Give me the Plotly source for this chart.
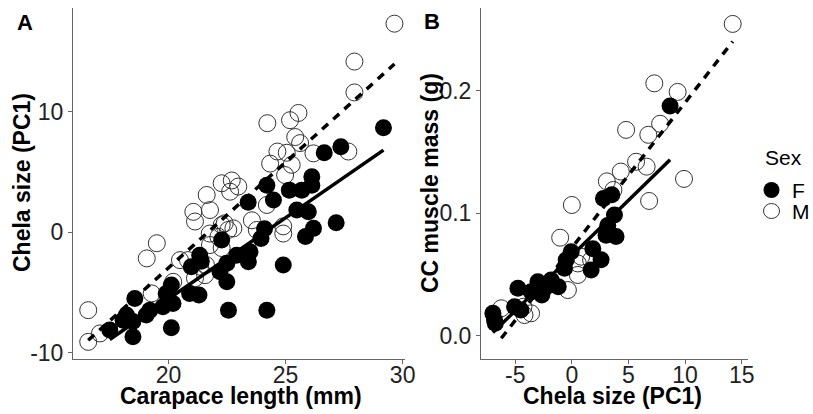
import numpy as np
import plotly.graph_objects as go

# Panel A: carapace length (mm) vs chela size (PC1)
a_male_x = [29.65, 27.94, 27.94, 24.22, 25.19, 25.55, 25.41, 25.62, 24.65, 25.05,
            26.19, 27.68, 24.34, 25.26, 24.98, 24.2, 24.9, 24.9, 22.27, 22.7,
            22.98, 22.63, 21.63, 21.06, 21.77, 21.13, 22.4, 23.56, 22.27, 22.77,
            22.13, 19.5, 19.07, 23.77, 20.49, 21.35, 21.56, 21.13, 20.2, 19.28,
            16.57, 16.57, 17.07, 20.83, 21.6, 21.76, 22.55, 22.27, 21.77]
a_male_y = [17.3, 14.16, 11.6, 9.05, 9.3, 9.9, 7.9, 7.4, 6.7, 6.6,
            6.55, 6.7, 5.7, 5.6, 4.75, 2.27, 0.5, -0.1, 4.07, 4.3,
            3.8, 3.37, 3.1, 1.7, 1.85, 0.9, 0.75, 1.0, 0.6, 0.33,
            -0.37, -0.9, -2.16, 0.2, -2.3, -2.85, -3.55, -3.8, -4.1, -5.06,
            -6.45, -9.08, -8.38, -2.3, -2.7, -0.1, 0.2, -1.3, -1.05]
a_female_x = [29.18, 27.36, 26.65, 26.12, 26.12, 25.69, 25.16, 24.2, 24.48, 23.4,
              25.48, 25.97, 27.16, 26.19, 25.85, 24.1, 23.95, 22.27, 22.91, 23.48,
              23.41, 22.49, 22.2, 22.49, 21.3, 24.9, 22.56, 24.2, 21.4, 20.97,
              21.33, 20.12, 19.9, 18.56, 20.19, 19.76, 19.2, 19.05, 18.2, 18.48,
              18.06, 17.49, 18.48, 20.12, 20.9]
a_female_y = [8.68, 7.1, 6.6, 4.6, 3.9, 3.5, 3.5, 3.9, 2.68, 2.5,
              1.85, 1.7, 0.8, 0.33, -0.35, 0.3, -0.5, -0.64, -1.9, -1.6,
              -2.44, -2.57, -3.27, -4.1, -5.2, -2.7, -6.45, -6.45, -2.4, -2.85,
              -1.9, -4.37, -5.07, -5.48, -5.9, -6.17, -6.45, -6.86, -6.86, -7.4,
              -7.28, -8.1, -8.66, -7.9, -5.06]

# Panel B: chela size (PC1) vs CC muscle mass (g)
b_male_x = [14.2, 7.28, 9.34, 4.79, 6.75, 7.79, 5.67, 6.6, 4.32, 9.9,
            6.82, 3.09, 3.67, 0.0, -1.03, 0.53, 0.82, 0.53, -0.35, -6.23,
            -4.18, -4.27, 1.7, -3.6]
b_male_y = [0.2545, 0.206, 0.199, 0.168, 0.164, 0.173, 0.142, 0.138, 0.134, 0.128,
            0.110, 0.126, 0.119, 0.1067, 0.080, 0.059, 0.0645, 0.0496, 0.0373, 0.0224,
            0.0169, 0.0237, 0.0618, 0.0183]
b_female_x = [8.67, 2.79, 3.53, 3.76, 3.17, 3.9, 3.02, 1.85, 2.58, 1.7,
              -0.06, -0.5, -0.65, -1.83, -3.0, -2.42, -3.59, -4.76, -5.06, -6.97,
              -6.83, -1.9, -2.65, -6.76, -4.5, -1.2]
b_female_y = [0.1875, 0.112, 0.115, 0.0985, 0.090, 0.081, 0.082, 0.071, 0.062, 0.0536,
              0.0686, 0.0618, 0.055, 0.0455, 0.044, 0.0387, 0.0359, 0.0387, 0.0237, 0.0183,
              0.0128, 0.0414, 0.0332, 0.0101, 0.021, 0.040]

# tick labels
a_xticks = [20, 25, 30]
a_yticks = [-10, 0, 10]
b_xticks = [-5, 0, 5, 10, 15]
b_yticks = [0.0, 0.1, 0.2]

sexes = ["F", "M"]

FONT = "Liberation Sans, Arial, sans-serif"
W, H = 813, 414


def fit_line(xs, ys):
    # lm fit over the group's x range, like geom_smooth(method="lm", se=FALSE)
    k, b = np.polyfit(xs, ys, 1)
    xr = np.array([min(xs), max(xs)])
    return xr, k * xr + b


def pxx(v):
    return v / W


def pxy(v):
    return 1 - v / H


MALE_MARKER = dict(symbol="circle-open", size=17, color="#333333", line=dict(width=1, color="#333333"))
FEMALE_MARKER = dict(symbol="circle", size=17, color="black", line=dict(width=0))

fig = go.Figure()

for xs, ys, sex, ax in [
    (a_male_x, a_male_y, "M", ""),
    (a_female_x, a_female_y, "F", ""),
    (b_male_x, b_male_y, "M", "2"),
    (b_female_x, b_female_y, "F", "2"),
]:
    fig.add_trace(go.Scatter(
        x=xs, y=ys, mode="markers", name=sex,
        marker=MALE_MARKER if sex == "M" else FEMALE_MARKER,
        xaxis="x" + ax, yaxis="y" + ax, showlegend=False,
    ))

for xs, ys, dash, ax in [
    (a_male_x, a_male_y, "8px,7px", ""),
    (a_female_x, a_female_y, "solid", ""),
    (b_male_x, b_male_y, "8px,7px", "2"),
    (b_female_x, b_female_y, "solid", "2"),
]:
    lx, ly = fit_line(xs, ys)
    fig.add_trace(go.Scatter(
        x=lx, y=ly, mode="lines", line=dict(color="black", width=3.5, dash=dash),
        xaxis="x" + ax, yaxis="y" + ax, showlegend=False, hoverinfo="skip",
    ))

axis_common = dict(
    showline=True, linecolor="#666666", linewidth=1,
    ticks="outside", ticklen=4, tickcolor="#666666",
    showgrid=False, zeroline=False, automargin=False,
    tickfont=dict(family=FONT, size=23, color="#222222"),
)

top = pxy(8)
bottom = pxy(359)

fig.update_layout(
    template="none",
    width=W, height=H,
    margin=dict(l=0, r=0, t=0, b=0, autoexpand=False),
    paper_bgcolor="white", plot_bgcolor="white",
    showlegend=False,
    xaxis=dict(domain=[pxx(73), pxx(405)], range=[15.92, 30.1],
               tickvals=a_xticks, ticktext=[str(v) for v in a_xticks],
               ticklabelstandoff=-9, anchor="y", **axis_common),
    yaxis=dict(domain=[bottom, top], range=[-10.5, 18.6],
               tickvals=a_yticks, ticktext=[str(v) for v in a_yticks],
               anchor="x", **axis_common),
    xaxis2=dict(domain=[pxx(481), pxx(748)], range=[-8.02, 15.55],
                tickvals=b_xticks, ticktext=[str(v) for v in b_xticks],
                ticklabelstandoff=-9, anchor="y2", **axis_common),
    yaxis2=dict(domain=[bottom, top], range=[-0.019, 0.2675],
                tickvals=b_yticks, ticktext=[f"{v:.1f}" for v in b_yticks],
                anchor="x2", **axis_common),
)

annotations = [
    # panel tags
    dict(text="<b>A</b>", x=pxx(25), y=pxy(22), size=22),
    dict(text="<b>B</b>", x=pxx(432), y=pxy(21), size=22),
    # axis titles
    dict(text="<b>Carapace length (mm)</b>", x=pxx(241), y=pxy(396), size=23),
    dict(text="<b>Chela size (PC1)</b>", x=pxx(612), y=pxy(396), size=23),
    dict(text="<b>Chela size (PC1)</b>", x=pxx(22), y=pxy(183), size=23, textangle=-90),
    dict(text="<b>CC muscle mass (g)</b>", x=pxx(430), y=pxy(183), size=23, textangle=-90),
]
for a in annotations:
    size = a.pop("size")
    fig.add_annotation(xref="paper", yref="paper", showarrow=False,
                       xanchor="center", yanchor="middle",
                       font=dict(family=FONT, size=size, color="black"), **a)

# legend (ggplot-style key at the right)
fig.add_annotation(text="Sex", x=pxx(763), y=pxy(158), xref="paper", yref="paper",
                   showarrow=False, xanchor="left", yanchor="middle",
                   font=dict(family=FONT, size=21, color="black"))
for i, sex in enumerate(sexes):
    cy = 190 + i * 21
    if sex == "F":
        fig.add_shape(type="circle", xref="paper", yref="paper",
                      x0=pxx(763.5), x1=pxx(779.5), y0=pxy(cy + 8), y1=pxy(cy - 8),
                      fillcolor="black", line=dict(width=0))
    else:
        fig.add_shape(type="circle", xref="paper", yref="paper",
                      x0=pxx(763.5), x1=pxx(779.5), y0=pxy(cy + 7.5), y1=pxy(cy - 7.5),
                      fillcolor="rgba(0,0,0,0)", line=dict(width=1, color="#333333"))
    fig.add_annotation(text=sex, x=pxx(790), y=pxy(cy), xref="paper", yref="paper",
                       showarrow=False, xanchor="left", yanchor="middle",
                       font=dict(family=FONT, size=21, color="black"))

# the page body has a default 8px margin; drop it so the figure sits at 0,0
fig.write_html("out.html", config={"displayModeBar": False},
               post_script="document.body.style.margin='0';")
